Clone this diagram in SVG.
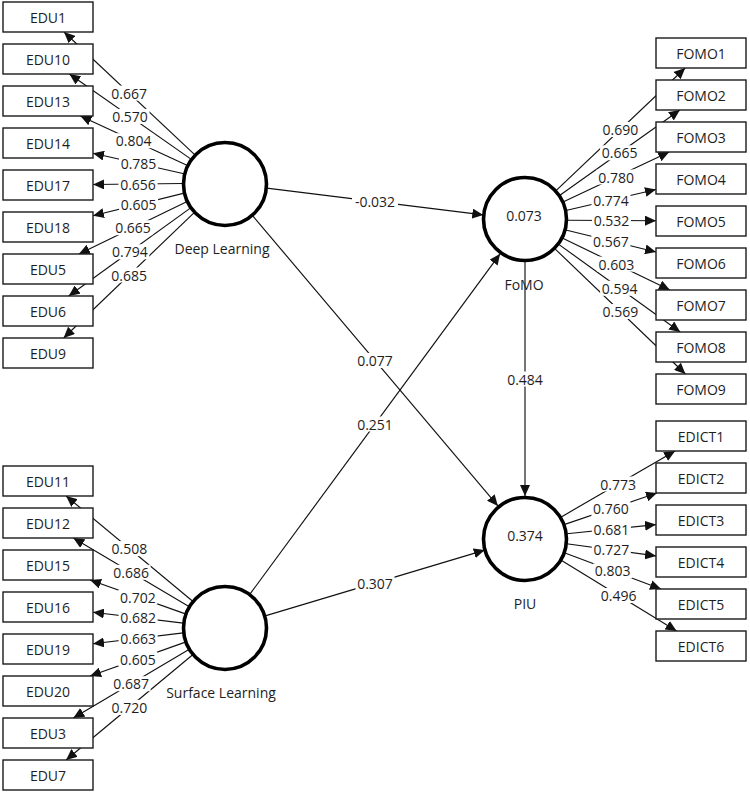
<svg xmlns="http://www.w3.org/2000/svg" width="750" height="793" viewBox="0 0 750 793">
<defs>
<marker id="ah" markerUnits="userSpaceOnUse" markerWidth="12" markerHeight="10" refX="11" refY="5" orient="auto">
<path d="M0,0 L11,5 L0,10 z" fill="#111"/>
</marker>
<style>
text{font-family:"Open Sans","Noto Sans","DejaVu Sans",sans-serif;font-size:14px;fill:#1e1e1e;text-anchor:middle;dominant-baseline:central}
.c line{stroke:#111;stroke-width:1.15;marker-end:url(#ah)}
.lb rect{fill:#fff}
.box rect{fill:#fff;stroke:#1a1a1a;stroke-width:1.4}
.lat circle{fill:#fff;stroke:#000;stroke-width:3.6}
</style>
</defs>
<rect width="750" height="793" fill="#fff"/>
<g id="connectors" class="c">
<line x1="194.4" y1="154.3" x2="64.0" y2="32.0"/>
<line x1="190.6" y1="158.9" x2="69.4" y2="74"/>
<line x1="186.9" y1="165.3" x2="80.4" y2="116"/>
<line x1="184" y1="173.7" x2="93" y2="153.2"/>
<line x1="183" y1="183.5" x2="93" y2="184.5"/>
<line x1="184.2" y1="193.1" x2="93" y2="215.8"/>
<line x1="187.2" y1="201.4" x2="78.9" y2="254"/>
<line x1="191" y1="207.6" x2="68.7" y2="296"/>
<line x1="194.7" y1="212.1" x2="63.6" y2="338"/>
<line x1="192.7" y1="601.2" x2="66.1" y2="496"/>
<line x1="188.9" y1="606.6" x2="73.3" y2="538"/>
<line x1="185.4" y1="613.9" x2="90.1" y2="580"/>
<line x1="183.3" y1="623.1" x2="93" y2="612.3"/>
<line x1="183.3" y1="632.9" x2="93" y2="643.7"/>
<line x1="185.4" y1="642.1" x2="90.1" y2="676"/>
<line x1="188.9" y1="649.4" x2="73.3" y2="718"/>
<line x1="192.7" y1="654.8" x2="66.1" y2="760"/>
<line x1="555.5" y1="191.1" x2="685.2" y2="68"/>
<line x1="559.2" y1="195.7" x2="679.9" y2="110"/>
<line x1="563" y1="202.1" x2="669.2" y2="152"/>
<line x1="565.9" y1="210.5" x2="656" y2="189.5"/>
<line x1="567" y1="220.2" x2="656" y2="220.7"/>
<line x1="565.8" y1="230" x2="656" y2="252"/>
<line x1="562.8" y1="238.3" x2="669.9" y2="290"/>
<line x1="559.1" y1="244.6" x2="680.2" y2="332"/>
<line x1="555.3" y1="249.1" x2="685.4" y2="374"/>
<line x1="561.3" y1="516.9" x2="675.1" y2="451"/>
<line x1="564.8" y1="524.4" x2="657" y2="493"/>
<line x1="566.8" y1="533.7" x2="656" y2="524.6"/>
<line x1="566.6" y1="543.7" x2="656" y2="555.9"/>
<line x1="564.3" y1="552.7" x2="661" y2="589"/>
<line x1="560.8" y1="560" x2="676.6" y2="631"/>
<line x1="266.7" y1="188.1" x2="483.3" y2="214.9"/>
<line x1="252.1" y1="215.1" x2="497.9" y2="505.9"/>
<line x1="249.9" y1="594.2" x2="500.1" y2="253.8"/>
<line x1="265.2" y1="615.9" x2="484.8" y2="550.1"/>
<line x1="525" y1="262" x2="525" y2="496"/>
<g class="lb">
<g transform="translate(129.2,93.1)"><rect x="-19.5" y="-7.5" width="39" height="15"/><text>0.667</text></g>
<g transform="translate(130,116.4)"><rect x="-19.5" y="-7.5" width="39" height="15"/><text>0.570</text></g>
<g transform="translate(133.6,140.7)"><rect x="-19.5" y="-7.5" width="39" height="15"/><text>0.804</text></g>
<g transform="translate(138.5,163.5)"><rect x="-19.5" y="-7.5" width="39" height="15"/><text>0.785</text></g>
<g transform="translate(138,184)"><rect x="-19.5" y="-7.5" width="39" height="15"/><text>0.656</text></g>
<g transform="translate(138.6,204.5)"><rect x="-19.5" y="-7.5" width="39" height="15"/><text>0.605</text></g>
<g transform="translate(133,227.7)"><rect x="-19.5" y="-7.5" width="39" height="15"/><text>0.665</text></g>
<g transform="translate(129.8,251.8)"><rect x="-19.5" y="-7.5" width="39" height="15"/><text>0.794</text></g>
<g transform="translate(129.2,275)"><rect x="-19.5" y="-7.5" width="39" height="15"/><text>0.685</text></g>
<g transform="translate(129.4,548.6)"><rect x="-19.5" y="-7.5" width="39" height="15"/><text>0.508</text></g>
<g transform="translate(131.1,572.3)"><rect x="-19.5" y="-7.5" width="39" height="15"/><text>0.686</text></g>
<g transform="translate(137.8,597)"><rect x="-19.5" y="-7.5" width="39" height="15"/><text>0.702</text></g>
<g transform="translate(138.1,617.7)"><rect x="-19.5" y="-7.5" width="39" height="15"/><text>0.682</text></g>
<g transform="translate(138.1,638.3)"><rect x="-19.5" y="-7.5" width="39" height="15"/><text>0.663</text></g>
<g transform="translate(137.8,659)"><rect x="-19.5" y="-7.5" width="39" height="15"/><text>0.605</text></g>
<g transform="translate(131.1,683.7)"><rect x="-19.5" y="-7.5" width="39" height="15"/><text>0.687</text></g>
<g transform="translate(129.4,707.4)"><rect x="-19.5" y="-7.5" width="39" height="15"/><text>0.720</text></g>
<g transform="translate(620.3,129.5)"><rect x="-19.5" y="-7.5" width="39" height="15"/><text>0.690</text></g>
<g transform="translate(619.6,152.8)"><rect x="-19.5" y="-7.5" width="39" height="15"/><text>0.665</text></g>
<g transform="translate(616.1,177)"><rect x="-19.5" y="-7.5" width="39" height="15"/><text>0.780</text></g>
<g transform="translate(611,200)"><rect x="-19.5" y="-7.5" width="39" height="15"/><text>0.774</text></g>
<g transform="translate(611.5,220.5)"><rect x="-19.5" y="-7.5" width="39" height="15"/><text>0.532</text></g>
<g transform="translate(610.9,241)"><rect x="-19.5" y="-7.5" width="39" height="15"/><text>0.567</text></g>
<g transform="translate(616.4,264.1)"><rect x="-19.5" y="-7.5" width="39" height="15"/><text>0.603</text></g>
<g transform="translate(619.6,288.3)"><rect x="-19.5" y="-7.5" width="39" height="15"/><text>0.594</text></g>
<g transform="translate(620.3,311.5)"><rect x="-19.5" y="-7.5" width="39" height="15"/><text>0.569</text></g>
<g transform="translate(618.2,484)"><rect x="-19.5" y="-7.5" width="39" height="15"/><text>0.773</text></g>
<g transform="translate(610.9,508.7)"><rect x="-19.5" y="-7.5" width="39" height="15"/><text>0.760</text></g>
<g transform="translate(611.4,529.2)"><rect x="-19.5" y="-7.5" width="39" height="15"/><text>0.681</text></g>
<g transform="translate(611.3,549.8)"><rect x="-19.5" y="-7.5" width="39" height="15"/><text>0.727</text></g>
<g transform="translate(612.7,570.9)"><rect x="-19.5" y="-7.5" width="39" height="15"/><text>0.803</text></g>
<g transform="translate(618.7,595.5)"><rect x="-19.5" y="-7.5" width="39" height="15"/><text>0.496</text></g>
<g transform="translate(375,201.5)"><rect x="-23" y="-7.5" width="46" height="15"/><text>-0.032</text></g>
<g transform="translate(375,360.5)"><rect x="-19.5" y="-7.5" width="39" height="15"/><text>0.077</text></g>
<g transform="translate(375,424)"><rect x="-19.5" y="-7.5" width="39" height="15"/><text>0.251</text></g>
<g transform="translate(375,583)"><rect x="-19.5" y="-7.5" width="39" height="15"/><text>0.307</text></g>
<g transform="translate(525,379)"><rect x="-19.5" y="-7.5" width="39" height="15"/><text>0.484</text></g>
</g>
</g>
<g id="indicators" class="box">
<g id="EDU1"><rect x="3" y="2" width="90" height="30"/><text x="48" y="17">EDU1</text></g>
<g id="EDU10"><rect x="3" y="44" width="90" height="30"/><text x="48" y="59">EDU10</text></g>
<g id="EDU13"><rect x="3" y="86" width="90" height="30"/><text x="48" y="101">EDU13</text></g>
<g id="EDU14"><rect x="3" y="128" width="90" height="30"/><text x="48" y="143">EDU14</text></g>
<g id="EDU17"><rect x="3" y="170" width="90" height="30"/><text x="48" y="185">EDU17</text></g>
<g id="EDU18"><rect x="3" y="212" width="90" height="30"/><text x="48" y="227">EDU18</text></g>
<g id="EDU5"><rect x="3" y="254" width="90" height="30"/><text x="48" y="269">EDU5</text></g>
<g id="EDU6"><rect x="3" y="296" width="90" height="30"/><text x="48" y="311">EDU6</text></g>
<g id="EDU9"><rect x="3" y="338" width="90" height="30"/><text x="48" y="353">EDU9</text></g>
<g id="EDU11"><rect x="3" y="466" width="90" height="30"/><text x="48" y="481">EDU11</text></g>
<g id="EDU12"><rect x="3" y="508" width="90" height="30"/><text x="48" y="523">EDU12</text></g>
<g id="EDU15"><rect x="3" y="550" width="90" height="30"/><text x="48" y="565">EDU15</text></g>
<g id="EDU16"><rect x="3" y="592" width="90" height="30"/><text x="48" y="607">EDU16</text></g>
<g id="EDU19"><rect x="3" y="634" width="90" height="30"/><text x="48" y="649">EDU19</text></g>
<g id="EDU20"><rect x="3" y="676" width="90" height="30"/><text x="48" y="691">EDU20</text></g>
<g id="EDU3"><rect x="3" y="718" width="90" height="30"/><text x="48" y="733">EDU3</text></g>
<g id="EDU7"><rect x="3" y="760" width="90" height="30"/><text x="48" y="775">EDU7</text></g>
<g id="FOMO1"><rect x="656" y="38" width="90" height="30"/><text x="701" y="53">FOMO1</text></g>
<g id="FOMO2"><rect x="656" y="80" width="90" height="30"/><text x="701" y="95">FOMO2</text></g>
<g id="FOMO3"><rect x="656" y="122" width="90" height="30"/><text x="701" y="137">FOMO3</text></g>
<g id="FOMO4"><rect x="656" y="164" width="90" height="30"/><text x="701" y="179">FOMO4</text></g>
<g id="FOMO5"><rect x="656" y="206" width="90" height="30"/><text x="701" y="221">FOMO5</text></g>
<g id="FOMO6"><rect x="656" y="248" width="90" height="30"/><text x="701" y="263">FOMO6</text></g>
<g id="FOMO7"><rect x="656" y="290" width="90" height="30"/><text x="701" y="305">FOMO7</text></g>
<g id="FOMO8"><rect x="656" y="332" width="90" height="30"/><text x="701" y="347">FOMO8</text></g>
<g id="FOMO9"><rect x="656" y="374" width="90" height="30"/><text x="701" y="389">FOMO9</text></g>
<g id="EDICT1"><rect x="656" y="421" width="90" height="30"/><text x="701" y="436">EDICT1</text></g>
<g id="EDICT2"><rect x="656" y="463" width="90" height="30"/><text x="701" y="478">EDICT2</text></g>
<g id="EDICT3"><rect x="656" y="505" width="90" height="30"/><text x="701" y="520">EDICT3</text></g>
<g id="EDICT4"><rect x="656" y="547" width="90" height="30"/><text x="701" y="562">EDICT4</text></g>
<g id="EDICT5"><rect x="656" y="589" width="90" height="30"/><text x="701" y="604">EDICT5</text></g>
<g id="EDICT6"><rect x="656" y="631" width="90" height="30"/><text x="701" y="646">EDICT6</text></g>
</g>
<g id="latents" class="lat">
<g id="DeepLearning"><circle cx="225" cy="184" r="41.5"/><text x="222" y="248">Deep Learning</text></g>
<g id="SurfaceLearning"><circle cx="225" cy="628" r="41.5"/><text x="221" y="692">Surface Learning</text></g>
<g id="FoMO"><circle cx="525" cy="219" r="41.5"/><text x="524" y="215">0.073</text><text x="524" y="284">FoMO</text></g>
<g id="PIU"><circle cx="525" cy="539" r="41.5"/><text x="525" y="535">0.374</text><text x="525" y="603">PIU</text></g>
</g>
</svg>
